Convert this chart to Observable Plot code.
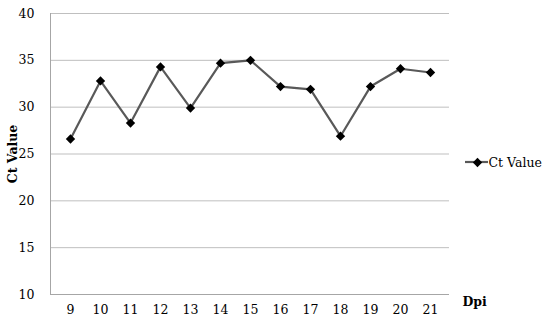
<!DOCTYPE html>
<html><head><meta charset="utf-8">
<script src="https://cdn.jsdelivr.net/npm/d3@7"></script>
<script src="https://cdn.jsdelivr.net/npm/@observablehq/plot@0.6"></script>
<style>body{margin:0;background:#fff}</style>
</head><body><div id="chart"></div>
<script>
const days = [9, 10, 11, 12, 13, 14, 15, 16, 17, 18, 19, 20, 21];
const ctValues = [26.6, 32.8, 28.3, 34.3, 29.9, 34.7, 35.0, 32.2, 31.9, 26.9, 32.2, 34.1, 33.7];
const yTicks = [10, 15, 20, 25, 30, 35, 40];
const seriesName = "Ct Value";
const yTitle = "Ct Value";
const xTitle = "Dpi";

const data = days.map((d, i) => ({day: d, ct: ctValues[i]}));
const axisGray = "#a6a6a6";

const plot = Plot.plot({
  width: 550, height: 325,
  marginLeft: 50, marginRight: 101, marginTop: 13, marginBottom: 31,
  style: {fontFamily: "'DejaVu Serif', serif", fontSize: "12.5px", color: "#000", background: "#fff", overflow: "visible"},
  x: {type: "point", domain: days, padding: 0.5},
  y: {domain: [10, 40]},
  marks: [
    Plot.gridY(yTicks, {stroke: "#bfbfbf", strokeOpacity: 1, strokeWidth: 1}),
    Plot.frame({anchor: "left", stroke: axisGray}),
    Plot.ruleY([10], {stroke: axisGray}),
    Plot.axisY(yTicks, {tickSize: 0, tickPadding: 16, label: null, fill: "#000"}),
    Plot.axisX({tickSize: 0, tickPadding: 11, label: null, fill: "#000"}),
    Plot.line(data, {x: "day", y: "ct", stroke: "#595959", strokeWidth: 2.2}),
    Plot.dot(data, {x: "day", y: "ct", symbol: "diamond2", r: 4.2, fill: "#000", stroke: "none"}),
    Plot.text([yTitle], {frameAnchor: "left", dx: -38, rotate: -90, textAnchor: "middle", fontWeight: "bold", fill: "#000"}),
    Plot.text([xTitle], {frameAnchor: "bottom-right", dx: 13, dy: 11, textAnchor: "start", fontWeight: "bold", fill: "#000"}),
    Plot.text([seriesName], {frameAnchor: "right", dx: 39, dy: 8.5, textAnchor: "start", fill: "#000"}),
    Plot.dot([seriesName], {frameAnchor: "right", dx: 28, dy: 8.5, symbol: "diamond2", r: 4.2, fill: "#000", stroke: "none"})
  ]
});

// legend swatch line
const W = 550, mr = 101, mt = 13, mb = 31, H = 325;
const cy = mt + (H - mt - mb) / 2 + 8.5;
d3.select(plot).insert("line", "g[aria-label='dot']:last-of-type")
  .attr("x1", W - mr + 16).attr("x2", W - mr + 39)
  .attr("y1", cy).attr("y2", cy)
  .attr("stroke", "#595959").attr("stroke-width", 2.2);

document.getElementById("chart").appendChild(plot);
</script>
</body></html>
